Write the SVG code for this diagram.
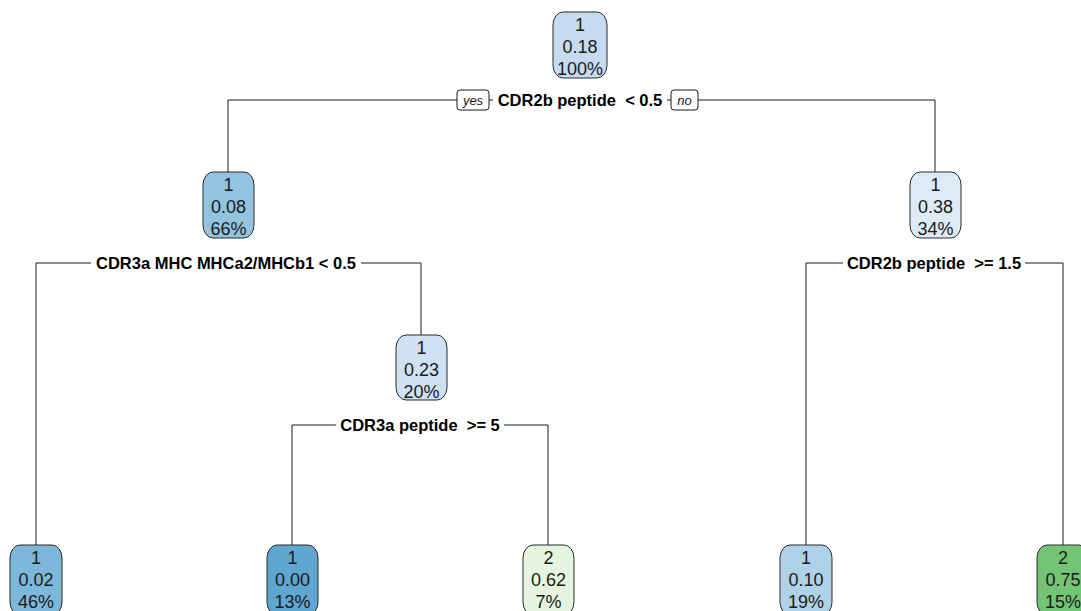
<svg xmlns="http://www.w3.org/2000/svg" width="1081" height="611" viewBox="0 0 1081 611">
  <style>
    .bg { fill: #ffffff; }
    .node rect { stroke: #2b2b2b; stroke-width: 1; }
    .node text { font-family: "Liberation Sans", Arial, sans-serif; font-size: 18px; fill: #1a1a1a; text-anchor: middle; }
    .edge { stroke: #1a1a1a; stroke-width: 1; fill: none; }
    .split { font-family: "Liberation Sans", Arial, sans-serif; font-size: 16.5px; font-weight: bold; fill: #000; text-anchor: middle; white-space: pre; }
    .lblbg { fill: #ffffff; }
    .yn rect { fill: #ffffff; stroke: #1a1a1a; stroke-width: 1; }
    .yn text { font-family: "Liberation Sans", Arial, sans-serif; font-size: 13px; font-style: italic; fill: #1a1a1a; text-anchor: middle; }
  </style>
  <rect class="bg" x="0" y="0" width="1081" height="611"/>

  <!-- connectors -->
  <g id="edges">
    <path class="edge" d="M228 172 V100 H935 V172"/>
    <path class="edge" d="M36 545 V263 H421 V335"/>
    <path class="edge" d="M806 545 V263 H1063 V545"/>
    <path class="edge" d="M292 545 V425 H548 V545"/>
  </g>

  <!-- split labels -->
  <g id="splits">
    <rect class="lblbg" x="493" y="90" width="174" height="20"/>
    <text class="split" x="580" y="106" xml:space="preserve">CDR2b peptide  &lt; 0.5</text>
    <g class="yn" id="yes">
      <rect x="457" y="90" width="32" height="20" rx="3"/>
      <text x="473" y="105">yes</text>
    </g>
    <g class="yn" id="no">
      <rect x="671" y="90" width="27" height="20" rx="3"/>
      <text x="684.5" y="105">no</text>
    </g>
    <rect class="lblbg" x="91" y="253" width="270" height="20"/>
    <text class="split" x="226" y="269">CDR3a MHC MHCa2/MHCb1 &lt; 0.5</text>
    <rect class="lblbg" x="843" y="253" width="182" height="20"/>
    <text class="split" x="934" y="269" xml:space="preserve">CDR2b peptide  &gt;= 1.5</text>
    <rect class="lblbg" x="336" y="415" width="168" height="20"/>
    <text class="split" x="420" y="431" xml:space="preserve">CDR3a peptide  &gt;= 5</text>
  </g>

  <!-- nodes -->
  <g class="node" id="n1">
    <rect x="553" y="12" width="54" height="66" rx="10" ry="13" fill="#c6dbef"/>
    <text x="580" y="31">1</text>
    <text x="580" y="53">0.18</text>
    <text x="580" y="75">100%</text>
  </g>
  <g class="node" id="n2">
    <rect x="203" y="172" width="51" height="66" rx="10" ry="13" fill="#93c4df"/>
    <text x="228.5" y="191">1</text>
    <text x="228.5" y="213">0.08</text>
    <text x="228.5" y="235">66%</text>
  </g>
  <g class="node" id="n3">
    <rect x="910" y="172" width="51" height="66" rx="10" ry="13" fill="#deebf7"/>
    <text x="935.5" y="191">1</text>
    <text x="935.5" y="213">0.38</text>
    <text x="935.5" y="235">34%</text>
  </g>
  <g class="node" id="n5">
    <rect x="396" y="335" width="51" height="65" rx="10" ry="13" fill="#cfe1f2"/>
    <text x="421.5" y="354">1</text>
    <text x="421.5" y="376">0.23</text>
    <text x="421.5" y="398">20%</text>
  </g>
  <g class="node" id="n4">
    <rect x="10" y="545" width="52" height="70" rx="10" ry="13" fill="#7db8da"/>
    <text x="36" y="564">1</text>
    <text x="36" y="586">0.02</text>
    <text x="36" y="608">46%</text>
  </g>
  <g class="node" id="n10">
    <rect x="267" y="545" width="51" height="70" rx="10" ry="13" fill="#5fa6d1"/>
    <text x="292.5" y="564">1</text>
    <text x="292.5" y="586">0.00</text>
    <text x="292.5" y="608">13%</text>
  </g>
  <g class="node" id="n11">
    <rect x="523" y="545" width="51" height="70" rx="10" ry="13" fill="#e5f5e0"/>
    <text x="548.5" y="564">2</text>
    <text x="548.5" y="586">0.62</text>
    <text x="548.5" y="608">7%</text>
  </g>
  <g class="node" id="n6">
    <rect x="780" y="545" width="52" height="70" rx="10" ry="13" fill="#b0d2e8"/>
    <text x="806" y="564">1</text>
    <text x="806" y="586">0.10</text>
    <text x="806" y="608">19%</text>
  </g>
  <g class="node" id="n7">
    <rect x="1037" y="545" width="52" height="70" rx="10" ry="13" fill="#74c476"/>
    <text x="1063" y="564">2</text>
    <text x="1063" y="586">0.75</text>
    <text x="1063" y="608">15%</text>
  </g>
</svg>
